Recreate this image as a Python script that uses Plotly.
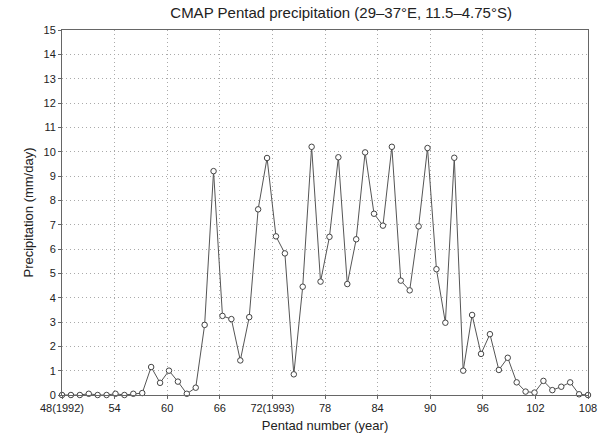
import numpy as np
import plotly.graph_objects as go

precip = [0, 0, 0, 0.05, 0, 0, 0.05, 0, 0.05, 0.08,
          1.15, 0.5, 1.0, 0.55, 0.05, 0.3, 2.88, 9.2, 3.25, 3.12,
          1.42, 3.2, 7.63, 9.74, 6.52, 5.82, 0.85, 4.45, 10.2, 4.66,
          6.5, 9.77, 4.56, 6.4, 9.97, 7.45, 6.96, 10.2, 4.7, 4.3,
          6.93, 10.15, 5.17, 2.97, 9.75, 1.0, 3.29, 1.69, 2.5, 1.03,
          1.53, 0.52, 0.14, 0.1, 0.58, 0.2, 0.34, 0.52, 0.03, 0.0]
pentad_start, pentad_end = 48, 108
pentads = np.linspace(pentad_start, pentad_end, len(precip))

xtick_vals = [48, 54, 60, 66, 72, 78, 84, 90, 96, 102, 108]
xtick_text = ["48(1992)", "54", "60", "66", "72(1993)", "78", "84", "90", "96", "102", "108"]
ytick_vals = list(range(0, 16))

fig = go.Figure()
fig.add_trace(go.Scatter(
    x=pentads, y=precip, mode="lines+markers",
    line=dict(color="#555555", width=1),
    marker=dict(symbol="circle", size=5.5, color="white",
                line=dict(color="#444444", width=1)),
    cliponaxis=False,
))

axis_common = dict(
    showline=True, linecolor="#666666", linewidth=1, mirror=True,
    showgrid=True, gridcolor="#aaaaaa", griddash="1px,3px", gridwidth=1,
    ticks="outside", ticklen=3, tickcolor="#666666",
    zeroline=False, automargin=False,
    tickfont=dict(family="Liberation Sans, Arial, sans-serif", size=11, color="#222222"),
    title_font=dict(family="Liberation Sans, Arial, sans-serif", size=13, color="#222222"),
)

fig.update_layout(
    width=607, height=439,
    margin=dict(l=62, r=19, t=30, b=44),
    paper_bgcolor="white", plot_bgcolor="white",
    showlegend=False,
    title=dict(text="CMAP Pentad precipitation (29–37°E, 11.5–4.75°S)",
               x=0.562, xanchor="center", y=0.97, yanchor="middle",
               font=dict(family="Liberation Sans, Arial, sans-serif", size=15, color="#222222")),
    xaxis=dict(range=[48, 108], tickvals=xtick_vals, ticktext=xtick_text,
               title=dict(text="Pentad number (year)", standoff=7), **axis_common),
    yaxis=dict(range=[0, 15], tickvals=ytick_vals,
               title=dict(text="Precipitation (mm/day)", standoff=6), **axis_common),
)

fig.write_html("out.html")
